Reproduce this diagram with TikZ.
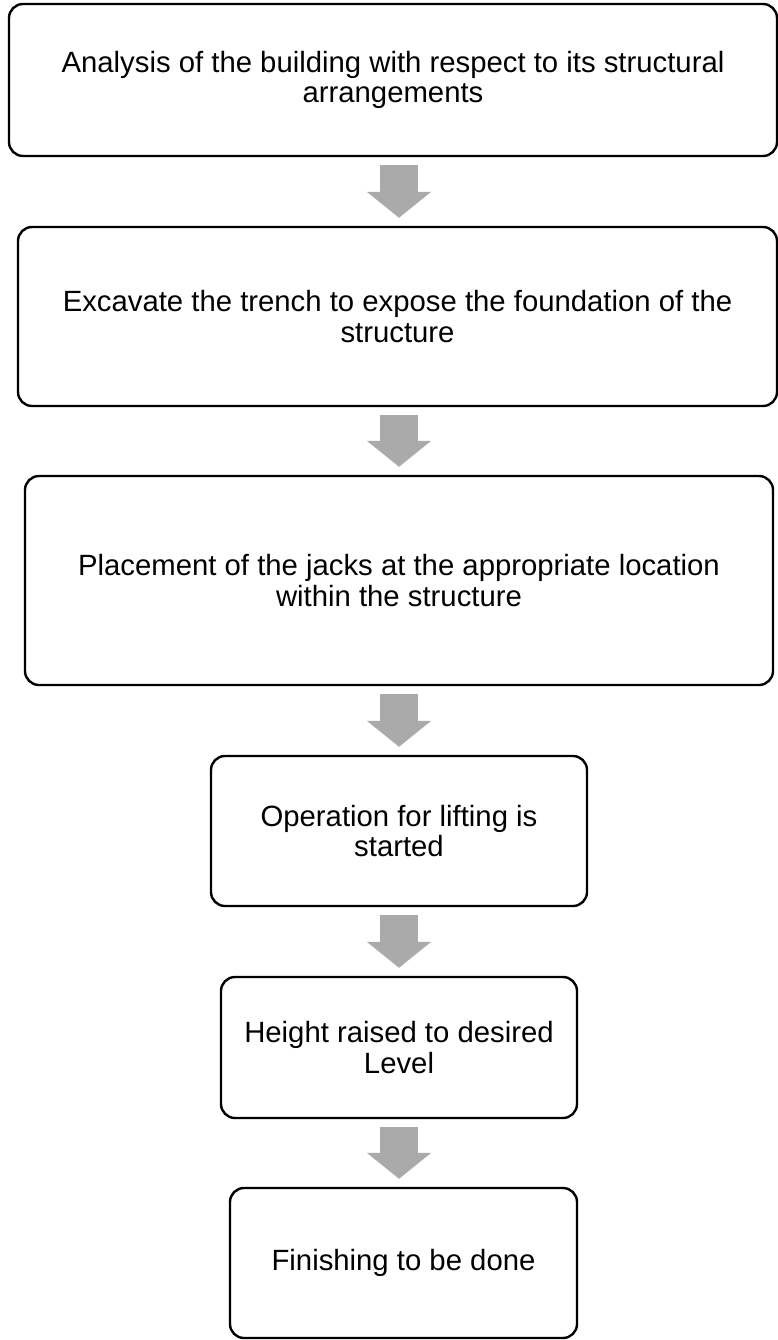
\documentclass[tikz,border=0pt]{standalone}
\usepackage{fontspec}
\setmainfont{Liberation Sans}
\usetikzlibrary{arrows.meta}
\definecolor{arrowgray}{RGB}{170,170,170}
\tikzset{
  stepbox/.style={draw, rounded corners=14pt, line width=2.4pt, align=center, inner sep=0pt, font=\fontsize{29.3}{30.5}\selectfont},
  blockarrow/.style={draw=arrowgray, line width=38pt, -{Triangle[width=63pt,length=26pt]}, shorten <=8pt, shorten >=8pt}
}
\begin{document}
\begin{tikzpicture}[x=1pt, y=-1pt]
            \useasboundingbox (0,0) rectangle (778,1340);
            \coordinate (axis) at (399,0);

            \node at (393,80) [stepbox, minimum width=768pt, minimum height=152pt] (analysis) {Analysis of the building with respect to its structural\\arrangements};
            \node at (397.5,316.5) [stepbox, minimum width=759pt, minimum height=179pt] (excavate) {Excavate the trench to expose the foundation of the\\structure};
            \node at (399,580.5) [stepbox, minimum width=748pt, minimum height=209pt] (jacks) {Placement of the jacks at the appropriate location\\within the structure};
            \node at (399,831) [stepbox, minimum width=376pt, minimum height=150pt] (lifting) {Operation for lifting is\\started};
            \node at (399,1047.5) [stepbox, minimum width=356pt, minimum height=141pt] (height) {Height raised to desired\\Level};
            \node at (403.5,1263) [stepbox, minimum width=347pt, minimum height=150pt] (finish) {Finishing to be done};

            \draw[blockarrow] (analysis.south -| axis) -- (excavate.north -| axis);
            \draw[blockarrow] (excavate.south -| axis) -- (jacks.north -| axis);
            \draw[blockarrow] (jacks.south -| axis) -- (lifting.north -| axis);
            \draw[blockarrow] (lifting.south -| axis) -- (height.north -| axis);
            \draw[blockarrow] (height.south -| axis) -- (finish.north -| axis);
        \end{tikzpicture}
\end{document}
